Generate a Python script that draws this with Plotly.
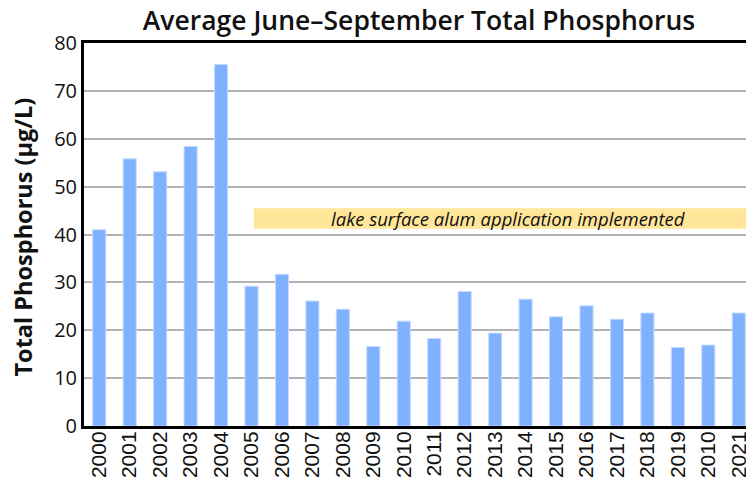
import plotly.graph_objects as go

years = ["2000", "2001", "2002", "2003", "2004", "2005", "2006", "2007", "2008", "2009",
         "2010", "2011", "2012", "2013", "2014", "2015", "2016", "2017", "2018", "2019",
         "2010", "2021"]
tp_values = [41.0, 55.8, 53.1, 58.4, 75.5, 29.2, 31.7, 26.1, 24.4, 16.6,
             21.9, 18.3, 28.1, 19.4, 26.5, 22.8, 25.1, 22.3, 23.6, 16.4,
             16.9, 23.6]
y_ticks = [0, 10, 20, 30, 40, 50, 60, 70, 80]

band_label = "lake surface alum application implemented"
band_x0, band_x1 = 5.08, 21.37
band_y0, band_y1 = 41.2, 45.5

positions = list(range(len(years)))

# page body has an 8px default margin; compensate in figure size
W, H = 746, 469
ML, MT, MB = 76, 35, 51

fig = go.Figure()
fig.add_trace(go.Bar(
    x=positions, y=tp_values,
    marker=dict(color="#7FB1FF", line=dict(color="#C4DAFF", width=1)),
    width=0.43,
    hoverinfo="skip",
))

fig.add_shape(type="rect", xref="x", yref="y",
              x0=band_x0, x1=band_x1, y0=band_y0, y1=band_y1,
              fillcolor="#FFE699", line=dict(width=0), layer="above")
fig.add_annotation(x=(band_x0 + band_x1) / 2 + 0.2, y=(band_y0 + band_y1) / 2,
                   xref="x", yref="y", text=band_label, showarrow=False,
                   font=dict(family="Open Sans", size=18.5, color="#111111", style="italic"))

# y-axis title
fig.add_annotation(x=0, y=0.5, xref="paper", yref="paper",
                   xanchor="center", yanchor="middle", xshift=-62, yshift=-3,
                   text="Total Phosphorus (μg/L)", textangle=-90, showarrow=False,
                   font=dict(family="Open Sans", size=23.5, color="#111111", weight=700))

fig.update_layout(
    width=W, height=H,
    margin=dict(l=ML, r=0, t=MT, b=MB, autoexpand=False),
    paper_bgcolor="white", plot_bgcolor="white",
    showlegend=False,
    title=dict(text="Average June–September Total Phosphorus",
               x=0.5, xref="paper", xanchor="center",
               y=1 - 13 / H, yref="container", yanchor="middle",
               font=dict(family="Open Sans", size=26.5, color="#111111", weight=600)),
    xaxis=dict(
        tickmode="array", tickvals=positions, ticktext=years,
        tickangle=-90, range=[-0.5, len(years) - 0.5],
        tickfont=dict(family="Liberation Sans", size=21, color="#111111"),
        ticklabelstandoff=-6,
        showline=True, linecolor="black", linewidth=3, mirror=True,
        showgrid=False, ticks="", zeroline=False, automargin=False,
    ),
    yaxis=dict(
        range=[0, 80], tickvals=y_ticks,
        tickfont=dict(family="Open Sans", size=20, color="#111111"),
        showline=True, linecolor="black", linewidth=3,
        showgrid=True, gridcolor="#B3B3B3", gridwidth=2,
        zeroline=False, ticks="", ticklen=0, automargin=False,
    ),
)

fig.write_html("out.html")
